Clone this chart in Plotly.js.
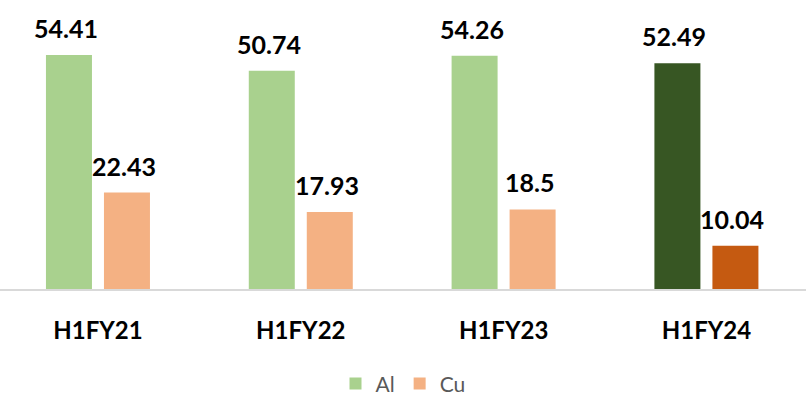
<!DOCTYPE html>
<html>
<head>
<meta charset="utf-8">
<script src="https://cdn.plot.ly/plotly-3.0.1.min.js"></script>
<style>html,body{margin:0;padding:0;background:#fff;}#chart{width:806px;height:404px;}</style>
</head>
<body>
<div id="chart"></div>
<script>
const categories = ["H1FY21", "H1FY22", "H1FY23", "H1FY24"];
const alValues = [54.41, 50.74, 54.26, 52.49];
const cuValues = [22.43, 17.93, 18.5, 10.04];
const alColors = ["#A9D18E", "#A9D18E", "#A9D18E", "#375623"];
const cuColors = ["#F4B183", "#F4B183", "#F4B183", "#C55A11"];

const traces = [
  {type: "bar", name: "Al", x: categories, y: alValues, marker: {color: alColors}, hoverinfo: "none"},
  {type: "bar", name: "Cu", x: categories, y: cuValues, marker: {color: cuColors}, hoverinfo: "none"}
];

const labelFont = {family: "Lato, 'Open Sans', sans-serif", size: 25, color: "#000000", weight: "bold"};
const annotations = [];
categories.forEach((c, i) => {
  annotations.push({x: c, y: alValues[i], text: "<b>" + alValues[i] + "</b>", showarrow: false, xref: "x", yref: "y",
    xanchor: "center", yanchor: "bottom", xshift: -32, yshift: 10, font: labelFont});
  annotations.push({x: c, y: cuValues[i], text: "<b>" + cuValues[i] + "</b>", showarrow: false, xref: "x", yref: "y",
    xanchor: "center", yanchor: "bottom", xshift: 26, yshift: 10, font: labelFont});
});

const layout = {
  width: 806, height: 404,
  margin: {l: 0, r: 0, t: 31, b: 115, autoexpand: false},
  paper_bgcolor: "#ffffff", plot_bgcolor: "#ffffff",
  barmode: "group", bargap: 0.428, bargroupgap: 0.207,
  showlegend: true,
  legend: {orientation: "h", x: 0.5, xanchor: "center", yref: "container", y: 0.05, yanchor: "middle",
    font: {family: "Lato, 'Open Sans', sans-serif", size: 21, color: "#595959"}, itemclick: false},
  xaxis: {type: "category", range: [-0.483, 3.491], showgrid: false, zeroline: false, automargin: false,
    showline: true, linecolor: "#D9D9D9", linewidth: 1.5, ticks: "", ticklabelstandoff: 20,
    tickfont: {family: "Lato, 'Open Sans', sans-serif", size: 24, color: "#000000", weight: "bold"}},
  yaxis: {range: [0, 60], visible: false, showgrid: false, zeroline: false, automargin: false},
  annotations: annotations
};

Plotly.newPlot("chart", traces, layout, {displayModeBar: false, staticPlot: true});
</script>
</body>
</html>
